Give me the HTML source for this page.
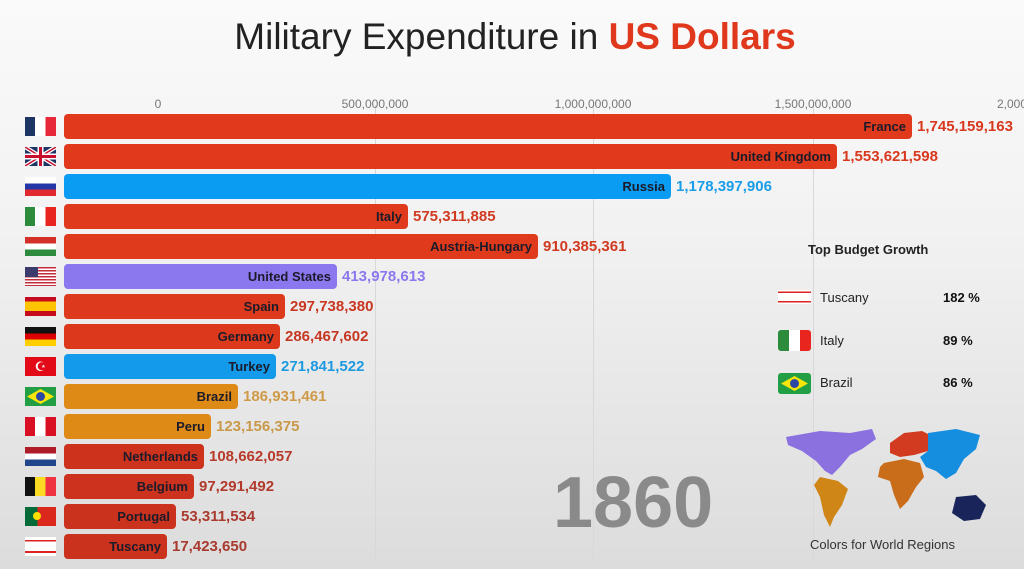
<!DOCTYPE html>
<html><head><meta charset="utf-8"><style>
body{margin:0;width:1024px;height:569px;overflow:hidden;font-family:"Liberation Sans","DejaVu Sans",sans-serif;background:linear-gradient(#fafafa 0%,#f2f2f2 40%,#dcdcdc 100%);position:relative}
.a{position:absolute}
.t{left:0;width:1030px;text-align:center;top:16px;font-size:37px;color:#222}
.tk{top:97px;font-size:12px;color:#777;transform:translateX(-50%)}
.g{top:105px;height:455px;width:1px;background:#d8d8d8}
.bar{left:64px;height:25px;border-radius:4px;box-sizing:border-box;padding-right:6px;text-align:right;font-weight:bold;font-size:13px;line-height:25px;color:#1b1b2a}
.v{font-weight:bold;font-size:15px;line-height:25px}
.f{left:25px;width:31px;height:19px}
</style></head><body>
<div class="a t">Military Expenditure in <b style="color:#e0381c">US Dollars</b></div>
<div class="a g" style="left:375px"></div><div class="a g" style="left:593px"></div><div class="a g" style="left:813px"></div>
<div class="a tk" style="left:158px">0</div>
<div class="a tk" style="left:375px">500,000,000</div>
<div class="a tk" style="left:593px">1,000,000,000</div>
<div class="a tk" style="left:813px">1,500,000,000</div>
<div class="a tk" style="left:1012px">2,000</div>

<div class="a bar" style="top:114px;width:848px;background:#e0391b">France</div><div class="a v" style="top:114px;left:917px;color:#d8381e">1,745,159,163</div>
<div class="a bar" style="top:144px;width:773px;background:#e0391b">United Kingdom</div><div class="a v" style="top:144px;left:842px;color:#d8381e">1,553,621,598</div>
<div class="a bar" style="top:174px;width:607px;background:#0a9cf2">Russia</div><div class="a v" style="top:174px;left:676px;color:#1a9de8">1,178,397,906</div>
<div class="a bar" style="top:204px;width:344px;background:#df3a1c">Italy</div><div class="a v" style="top:204px;left:413px;color:#d03a20">575,311,885</div>
<div class="a bar" style="top:234px;width:474px;background:#df3a1c">Austria-Hungary</div><div class="a v" style="top:234px;left:543px;color:#d03a20">910,385,361</div>
<div class="a bar" style="top:264px;width:273px;background:#8c78ee">United States</div><div class="a v" style="top:264px;left:342px;color:#8c78ee">413,978,613</div>
<div class="a bar" style="top:294px;width:221px;background:#dd391c">Spain</div><div class="a v" style="top:294px;left:290px;color:#c93722">297,738,380</div>
<div class="a bar" style="top:324px;width:216px;background:#dc391c">Germany</div><div class="a v" style="top:324px;left:285px;color:#c63722">286,467,602</div>
<div class="a bar" style="top:354px;width:212px;background:#139aea">Turkey</div><div class="a v" style="top:354px;left:281px;color:#1e9ae0">271,841,522</div>
<div class="a bar" style="top:384px;width:174px;background:#de8a17">Brazil</div><div class="a v" style="top:384px;left:243px;color:#cf9a48">186,931,461</div>
<div class="a bar" style="top:414px;width:147px;background:#de8a17">Peru</div><div class="a v" style="top:414px;left:216px;color:#c9994a">123,156,375</div>
<div class="a bar" style="top:444px;width:140px;background:#cd321d">Netherlands</div><div class="a v" style="top:444px;left:209px;color:#b83a2a">108,662,057</div>
<div class="a bar" style="top:474px;width:130px;background:#cc321d">Belgium</div><div class="a v" style="top:474px;left:199px;color:#b23a2c">97,291,492</div>
<div class="a bar" style="top:504px;width:112px;background:#cb321d">Portugal</div><div class="a v" style="top:504px;left:181px;color:#aa3a2e">53,311,534</div>
<div class="a bar" style="top:534px;width:103px;background:#ca321d">Tuscany</div><div class="a v" style="top:534px;left:172px;color:#a83a2e">17,423,650</div>

<div class="a f" style="top:117px;background:linear-gradient(90deg,#1c3563 33%,#fff 33%,#fff 66%,#e6283a 66%)"></div>
<div class="a f" style="top:147px;background:#1c3563"><svg width="31" height="19"><path d="M0 0L31 19M31 0L0 19" stroke="#fff" stroke-width="4"/><path d="M0 0L31 19M31 0L0 19" stroke="#c8102e" stroke-width="1.5"/><path d="M15.5 0V19M0 9.5H31" stroke="#fff" stroke-width="6"/><path d="M15.5 0V19M0 9.5H31" stroke="#c8102e" stroke-width="3"/></svg></div>
<div class="a f" style="top:177px;background:linear-gradient(#fff 33%,#2537a6 33%,#2537a6 66%,#e0282e 66%)"></div>
<div class="a f" style="top:207px;background:linear-gradient(90deg,#2d8b3c 33%,#fff 33%,#fff 66%,#e8261f 66%)"></div>
<div class="a f" style="top:237px;background:linear-gradient(#d4302a 33%,#fff 33%,#fff 66%,#2e8a3c 66%)"></div>
<div class="a f" style="top:267px;background:repeating-linear-gradient(#c22d3a 0 1.5px,#fff 1.5px 3px)"><div class="a" style="left:0;top:0;width:13px;height:10px;background:#3c3b6e"></div></div>
<div class="a f" style="top:297px;background:linear-gradient(#c60b1e 25%,#ffc400 25%,#ffc400 75%,#c60b1e 75%)"></div>
<div class="a f" style="top:327px;background:linear-gradient(#111 33%,#dd0000 33%,#dd0000 66%,#ffce00 66%)"></div>
<div class="a f" style="top:357px;background:#e30a17;color:#fff;font-size:13px;line-height:19px;text-align:center">☪</div>
<div class="a f" style="top:387px;background:#229e45"><svg width="31" height="19"><path d="M15.5 2L29 9.5L15.5 17L2 9.5Z" fill="#f8e509"/><circle cx="15.5" cy="9.5" r="4.5" fill="#2b49a3"/></svg></div>
<div class="a f" style="top:417px;background:linear-gradient(90deg,#d91023 33%,#fff 33%,#fff 66%,#d91023 66%)"></div>
<div class="a f" style="top:447px;background:linear-gradient(#ae1c28 33%,#fff 33%,#fff 66%,#21468b 66%)"></div>
<div class="a f" style="top:477px;background:linear-gradient(90deg,#111 33%,#fdda24 33%,#fdda24 66%,#ef3340 66%)"></div>
<div class="a f" style="top:507px;background:linear-gradient(90deg,#046a38 40%,#da291c 40%)"><div class="a" style="left:8px;top:5px;width:8px;height:8px;border-radius:50%;background:#ffe000"></div></div>
<div class="a f" style="top:537px;background:linear-gradient(#fff 15%,#d22 15%,#d22 25%,#fff 25%,#fff 75%,#d22 75%,#d22 85%,#fff 85%)"></div>

<div class="a" style="left:553px;top:462px;font-size:72px;font-weight:bold;color:#8a8a8a">1860</div>

<div class="a" style="left:808px;top:242px;font-size:13px;font-weight:bold;color:#222">Top Budget Growth</div>
<div class="a" style="left:778px;top:290px;width:33px;height:14px;background:linear-gradient(#fff 10%,#d22 10%,#d22 22%,#fff 22%,#fff 78%,#d22 78%,#d22 90%,#fff 90%)"></div>
<div class="a" style="left:820px;top:290px;font-size:13px;color:#222">Tuscany</div><div class="a" style="left:943px;top:290px;font-size:13px;font-weight:bold;color:#111">182 %</div>
<div class="a" style="left:778px;top:330px;width:33px;height:21px;border-radius:3px;background:linear-gradient(90deg,#2d8b3c 33%,#fff 33%,#fff 66%,#e8261f 66%)"></div>
<div class="a" style="left:820px;top:333px;font-size:13px;color:#222">Italy</div><div class="a" style="left:943px;top:333px;font-size:13px;font-weight:bold;color:#111">89 %</div>
<div class="a" style="left:778px;top:373px;width:33px;height:21px;border-radius:3px;overflow:hidden;background:#229e45"><svg width="33" height="21"><path d="M16.5 3L30 10.5L16.5 18L3 10.5Z" fill="#f8e509"/><circle cx="16.5" cy="10.5" r="4.5" fill="#2b49a3"/></svg></div>
<div class="a" style="left:820px;top:375px;font-size:13px;color:#222">Brazil</div><div class="a" style="left:943px;top:375px;font-size:13px;font-weight:bold;color:#111">86 %</div>

<svg class="a" style="left:780px;top:425px" width="220" height="110">
<path d="M6 12L40 6L70 8L92 4L96 14L82 24L70 30L60 42L52 50L45 46L36 36L22 26L8 20Z" fill="#8b70e0"/>
<path d="M40 52L58 56L68 64L62 80L54 92L50 102L44 90L40 72L34 60Z" fill="#d08617"/>
<path d="M110 18L124 8L142 6L150 10L148 26L134 30L120 32L110 28Z" fill="#d23b1f"/>
<path d="M104 38L124 34L140 38L144 52L136 62L128 76L120 84L114 70L110 56L98 52L100 42Z" fill="#c96d1a"/>
<path d="M148 8L176 4L200 10L196 24L184 34L176 48L166 54L156 46L146 42L140 32L148 26Z" fill="#168ee0"/>
<path d="M176 72L196 70L206 80L200 94L184 96L172 88Z" fill="#18245a"/>
</svg>
<div class="a" style="left:810px;top:537px;font-size:13px;color:#333">Colors for World Regions</div>
</body></html>
